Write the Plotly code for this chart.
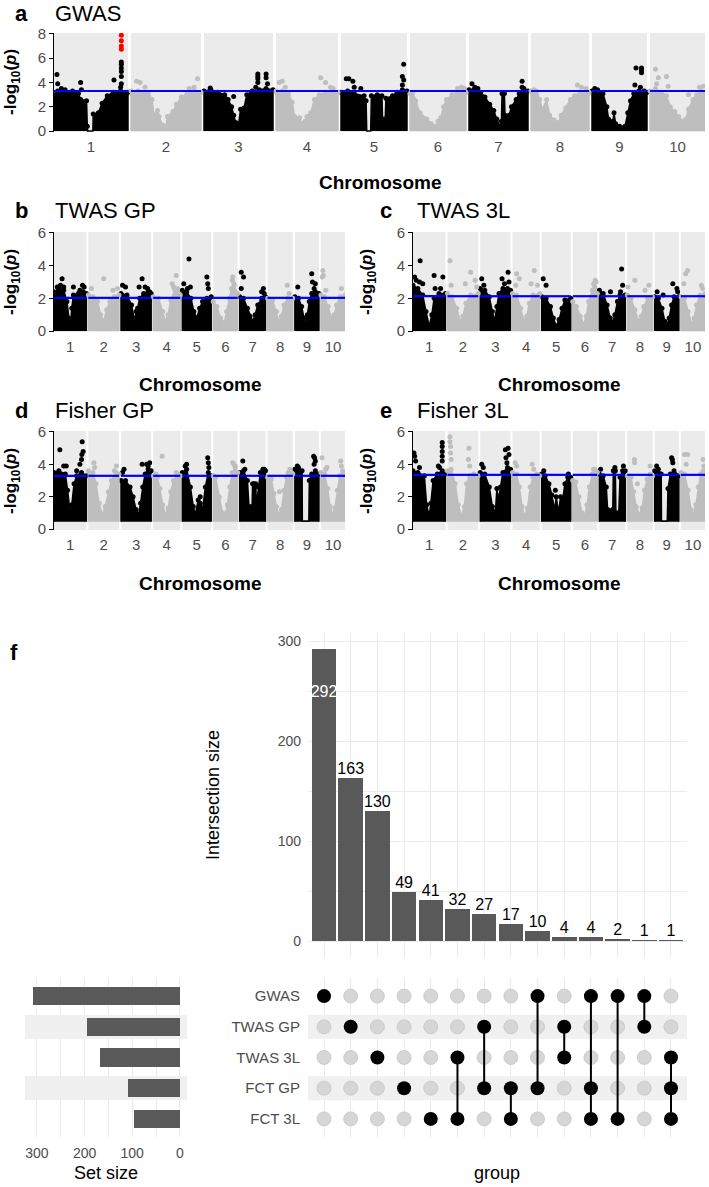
import plotly.graph_objects as go

W, H = 709, 1187
FONT = "Liberation Sans, Arial, sans-serif"
BLACK = "#000000"
GREY = "#BEBEBE"
PANEL_BG = "#EBEBEB"
AXIS_TEXT = "#4D4D4D"
BAR = "#595959"
BAND = "#F0F0F0"

# ---------------------------------------------------------------- data
CHROMOSOMES = [str(i) for i in range(1, 11)]
CHROM_WIDTH = [74, 70, 69, 62, 66, 56, 59, 58, 55, 55]   # relative chromosome lengths

# Each chromosome: list of (relative position, -log10 p) along the upper edge of the SNP cloud
GWAS_THRESHOLD = 3.3
GWAS_ENVELOPE = [
    [(0, 3.0), (0.05, 3.3), (0.15, 3.2), (0.25, 3.3), (0.33, 3.1), (0.36, 2.6), (0.44, 2.5), (0.45, 0.4), (0.455, 0), (0.525, 0), (0.53, 1.4), (0.6, 1.5), (0.65, 2.3), (0.72, 2.9), (0.8, 3.2), (0.9, 3.3), (1, 3.2)],
    [(0, 3.3), (0.1, 3.3), (0.25, 3.2), (0.3, 2.6), (0.33, 1.3), (0.38, 1.7), (0.4, 1.2), (0.45, 0.5), (0.5, 0.4), (0.52, 1.2), (0.6, 1.6), (0.65, 2.2), (0.72, 2.8), (0.8, 3.1), (0.9, 3.3), (1, 3.2)],
    [(0, 3.3), (0.1, 3.4), (0.2, 3.2), (0.3, 3.0), (0.35, 2.6), (0.4, 2.0), (0.43, 1.3), (0.46, 0.7), (0.5, 0.5), (0.53, 1.8), (0.58, 1.9), (0.62, 3.0), (0.7, 3.3), (0.8, 3.4), (0.9, 3.5), (1, 3.4)],
    [(0, 3.3), (0.1, 3.3), (0.2, 3.1), (0.26, 2.4), (0.3, 1.2), (0.38, 1.1), (0.42, 0.6), (0.47, 0.8), (0.5, 1.2), (0.56, 1.5), (0.62, 2.6), (0.7, 3.0), (0.8, 3.2), (0.9, 3.3), (1, 3.2)],
    [(0, 3.2), (0.1, 3.3), (0.2, 3.1), (0.35, 2.9), (0.38, 2.5), (0.39, 0), (0.45, 0), (0.46, 2.9), (0.55, 3.0), (0.62, 2.9), (0.63, 1.0), (0.67, 1.0), (0.68, 2.7), (0.78, 2.9), (0.85, 3.2), (0.93, 3.4), (1, 3.3)],
    [(0, 3.1), (0.05, 3.2), (0.1, 2.5), (0.18, 1.5), (0.3, 1.0), (0.38, 0.6), (0.45, 0.4), (0.5, 0.8), (0.55, 1.1), (0.6, 2.0), (0.65, 2.6), (0.75, 3.0), (0.85, 3.2), (0.95, 3.3), (1, 3.2)],
    [(0, 3.4), (0.1, 3.5), (0.2, 3.2), (0.27, 2.8), (0.35, 2.2), (0.42, 1.7), (0.47, 1.0), (0.52, 0.4), (0.55, 0.8), (0.56, 3.1), (0.6, 3.1), (0.61, 1.3), (0.68, 1.3), (0.72, 2.0), (0.8, 2.6), (0.85, 3.1), (0.92, 3.3), (1, 3.3)],
    [(0, 3.3), (0.1, 3.3), (0.15, 2.6), (0.2, 1.8), (0.27, 2.6), (0.32, 1.3), (0.4, 0.9), (0.47, 0.7), (0.52, 1.3), (0.6, 1.9), (0.68, 2.6), (0.75, 2.9), (0.85, 3.2), (0.95, 3.3), (1, 3.2)],
    [(0, 3.3), (0.1, 3.3), (0.2, 3.1), (0.27, 2.0), (0.3, 1.0), (0.38, 0.8), (0.4, 1.5), (0.43, 0.6), (0.5, 0.4), (0.6, 0.4), (0.65, 1.5), (0.7, 2.5), (0.76, 3.1), (0.85, 3.3), (0.95, 3.3), (1, 3.2)],
    [(0, 3.3), (0.1, 3.5), (0.2, 3.2), (0.3, 2.9), (0.37, 2.0), (0.45, 1.6), (0.52, 1.2), (0.6, 0.8), (0.65, 1.0), (0.7, 1.8), (0.78, 2.6), (0.85, 3.0), (0.93, 3.3), (1, 3.2)],
]
GWAS_PEAKS = [
    [(0.04, 4.65), (0.05, 3.9), (0.1, 3.5), (0.15, 3.4), (0.36, 4.0), (0.37, 3.4), (0.81, 4.2), (0.9, 3.6), (0.91, 5.7), (0.91, 5.5), (0.91, 5.2), (0.91, 4.9), (0.91, 4.5), (0.91, 3.9)],
    [(0.08, 4.1), (0.13, 4.0), (0.2, 3.6), (0.83, 3.5), (0.9, 3.6), (0.95, 4.3)],
    [(0.09, 3.55), (0.43, 2.85), (0.75, 3.6), (0.78, 4.7), (0.78, 4.5), (0.78, 4.3), (0.78, 4.0), (0.9, 4.7), (0.9, 4.4), (0.92, 3.9)],
    [(0.05, 4.0), (0.1, 4.1), (0.15, 3.6), (0.72, 4.4), (0.8, 4.0), (0.88, 3.6), (0.92, 3.5)],
    [(0.08, 4.3), (0.12, 4.3), (0.18, 4.1), (0.2, 3.6), (0.3, 3.5), (0.93, 3.8), (0.93, 4.5), (0.95, 4.2), (0.95, 5.5)],
    [(0.85, 3.5), (0.92, 3.6), (0.97, 3.5)],
    [(0.05, 3.9), (0.1, 3.6), (0.15, 3.5), (0.9, 3.6), (0.9, 4.1), (0.93, 3.5)],
    [(0.05, 3.4), (0.8, 3.8), (0.87, 3.6), (0.95, 3.5)],
    [(0.05, 3.5), (0.1, 3.4), (0.78, 3.8), (0.8, 5.2), (0.9, 5.2), (0.9, 5.0), (0.9, 4.8), (0.88, 3.6)],
    [(0.1, 5.1), (0.12, 3.9), (0.15, 4.4), (0.3, 4.5), (0.33, 3.7), (0.7, 3.0), (0.9, 3.6), (0.97, 3.7)],
]
GWAS_TOP_HITS = [(0, 0.91, 7.9), (0, 0.91, 7.45), (0, 0.91, 7.0), (0, 0.91, 6.75)]  # (chromosome index, position, -log10 p)

TWAS_GP_THRESHOLD = 2.03
TWAS_GP_ENVELOPE = [
    [(0, 2.4), (0.15, 2.6), (0.3, 2.5), (0.4, 1.8), (0.45, 0.8), (0.5, 0.2), (0.55, 1.4), (0.6, 2.2), (0.75, 2.3), (0.9, 2.4), (1, 2.3)],
    [(0, 2.2), (0.15, 2.1), (0.3, 1.8), (0.4, 1.0), (0.5, 0.6), (0.6, 1.3), (0.7, 1.8), (0.85, 2.1), (1, 2.2)],
    [(0, 2.3), (0.2, 2.2), (0.35, 1.6), (0.45, 0.6), (0.5, 1.2), (0.55, 1.4), (0.62, 2.0), (0.75, 2.3), (0.9, 2.4), (1, 2.3)],
    [(0, 2.1), (0.2, 2.0), (0.35, 1.2), (0.45, 0.6), (0.55, 1.0), (0.65, 1.9), (0.8, 2.5), (0.9, 2.4), (1, 2.2)],
    [(0, 2.5), (0.15, 2.4), (0.3, 2.0), (0.4, 1.2), (0.5, 0.8), (0.6, 1.4), (0.7, 1.8), (0.85, 2.0), (1, 2.1)],
    [(0, 1.8), (0.15, 1.5), (0.3, 0.8), (0.45, 0.5), (0.55, 1.2), (0.65, 2.0), (0.75, 2.6), (0.85, 2.8), (1, 2.3)],
    [(0, 2.1), (0.15, 2.0), (0.3, 1.4), (0.4, 0.9), (0.5, 0.6), (0.6, 1.0), (0.7, 1.6), (0.85, 2.0), (1, 2.1)],
    [(0, 2.0), (0.2, 1.9), (0.35, 1.2), (0.45, 0.6), (0.55, 0.9), (0.65, 1.6), (0.8, 2.0), (1, 2.0)],
    [(0, 2.1), (0.15, 2.0), (0.28, 1.5), (0.38, 0.8), (0.45, 0.4), (0.52, 1.0), (0.6, 1.8), (0.7, 2.3), (0.85, 2.4), (1, 2.3)],
    [(0, 2.2), (0.15, 2.1), (0.3, 1.5), (0.45, 0.8), (0.55, 1.0), (0.65, 1.6), (0.8, 2.1), (1, 2.2)],
]
TWAS_GP_PEAKS = [
    [(0.1, 2.7), (0.2, 2.8), (0.25, 3.2), (0.3, 2.7), (0.6, 2.7), (0.8, 2.5), (0.88, 2.8), (0.93, 2.7)],
    [(0.1, 2.6), (0.5, 3.2), (0.8, 2.5), (0.95, 2.6)],
    [(0.05, 2.8), (0.15, 2.7), (0.6, 2.7), (0.7, 3.2), (0.8, 2.7), (0.88, 2.6), (0.95, 2.4)],
    [(0.7, 2.9), (0.75, 2.7), (0.85, 3.4), (0.9, 2.6)],
    [(0.05, 2.9), (0.23, 4.4), (0.28, 2.7), (0.18, 2.6), (0.85, 3.3), (0.88, 2.9), (0.9, 2.6)],
    [(0.78, 3.1), (0.8, 3.3), (0.85, 2.9)],
    [(0.06, 3.6), (0.15, 3.3), (0.06, 2.6), (0.85, 2.4), (0.92, 2.6), (0.95, 2.3)],
    [(0.78, 2.8), (0.85, 2.3)],
    [(0.12, 2.7), (0.7, 3.5), (0.73, 3.0), (0.85, 2.9), (0.8, 2.6)],
    [(0.08, 3.7), (0.05, 3.3), (0.1, 3.4), (0.2, 2.5), (0.85, 2.6)],
]

TWAS_3L_THRESHOLD = 2.13
TWAS_3L_ENVELOPE = [
    [(0, 2.8), (0.15, 2.6), (0.3, 2.2), (0.4, 1.2), (0.5, 0.3), (0.58, 1.0), (0.65, 2.0), (0.8, 2.3), (1, 2.3)],
    [(0, 2.3), (0.15, 2.1), (0.3, 1.4), (0.42, 0.6), (0.5, 0.9), (0.6, 1.7), (0.75, 2.2), (1, 2.3)],
    [(0, 2.6), (0.15, 2.5), (0.3, 2.1), (0.4, 1.2), (0.47, 0.6), (0.55, 1.5), (0.62, 2.3), (0.75, 2.6), (0.9, 2.6), (1, 2.5)],
    [(0, 2.3), (0.15, 2.2), (0.3, 1.4), (0.42, 0.6), (0.52, 0.9), (0.62, 1.7), (0.75, 2.2), (1, 2.3)],
    [(0, 2.1), (0.15, 2.0), (0.3, 1.5), (0.4, 0.8), (0.5, 0.3), (0.6, 0.7), (0.7, 1.4), (0.8, 1.9), (1, 2.0)],
    [(0, 1.8), (0.15, 1.5), (0.3, 0.9), (0.45, 0.4), (0.55, 0.9), (0.65, 1.8), (0.8, 2.5), (0.9, 2.7), (1, 2.3)],
    [(0, 2.5), (0.15, 2.3), (0.3, 1.6), (0.42, 0.8), (0.5, 0.5), (0.6, 1.0), (0.7, 1.8), (0.8, 2.2), (1, 2.2)],
    [(0, 2.2), (0.15, 2.0), (0.3, 1.3), (0.45, 0.6), (0.55, 0.9), (0.65, 1.5), (0.8, 2.0), (1, 2.1)],
    [(0, 2.1), (0.15, 2.0), (0.3, 1.4), (0.42, 0.6), (0.5, 0.3), (0.6, 0.8), (0.7, 1.6), (0.8, 2.1), (1, 2.1)],
    [(0, 2.1), (0.15, 2.0), (0.3, 1.2), (0.45, 0.4), (0.55, 0.8), (0.65, 1.6), (0.8, 2.2), (1, 2.3)],
]
TWAS_3L_PEAKS = [
    [(0.05, 3.3), (0.1, 3.1), (0.22, 4.3), (0.2, 3.0), (0.3, 2.9), (0.65, 3.4), (0.68, 2.6), (0.92, 3.3), (0.85, 2.6)],
    [(0.08, 4.3), (0.12, 2.8), (0.58, 2.9), (0.75, 3.6), (0.9, 3.1), (0.95, 2.7)],
    [(0.05, 3.2), (0.12, 2.8), (0.72, 3.2), (0.8, 2.9), (0.92, 3.6), (0.95, 3.0)],
    [(0.15, 3.5), (0.25, 3.2), (0.12, 2.8), (0.68, 2.9), (0.8, 3.7), (0.92, 2.8)],
    [(0.05, 3.2), (0.15, 2.8)],
    [(0.85, 2.9), (0.92, 3.1), (0.95, 3.0)],
    [(0.43, 2.4), (0.86, 3.8), (0.9, 2.8), (0.82, 2.4)],
    [(0.03, 2.7), (0.3, 3.1), (0.7, 2.5), (0.85, 2.8)],
    [(0.1, 2.4), (0.35, 2.2), (0.75, 2.9), (0.92, 2.6), (0.95, 2.4)],
    [(0.28, 3.7), (0.2, 3.5), (0.12, 2.9), (0.85, 2.8), (0.9, 2.6)],
]

FISHER_GP_THRESHOLD = 3.29
FISHER_GP_ENVELOPE = [
    [(0, 3.5), (0.15, 3.6), (0.35, 3.4), (0.42, 2.4), (0.5, 1.0), (0.55, 1.5), (0.62, 2.8), (0.7, 3.3), (0.85, 3.5), (1, 3.3)],
    [(0, 3.6), (0.15, 3.5), (0.25, 2.8), (0.35, 1.6), (0.45, 0.9), (0.55, 1.4), (0.65, 2.3), (0.75, 3.0), (0.9, 3.5), (1, 3.4)],
    [(0, 3.0), (0.15, 3.0), (0.3, 2.6), (0.4, 2.0), (0.5, 1.2), (0.58, 0.9), (0.65, 1.6), (0.72, 2.6), (0.8, 3.4), (0.9, 3.7), (1, 3.6)],
    [(0, 3.3), (0.15, 3.2), (0.25, 2.5), (0.35, 1.5), (0.45, 0.9), (0.55, 1.3), (0.65, 2.3), (0.75, 3.0), (0.9, 3.4), (1, 3.3)],
    [(0, 3.5), (0.15, 3.7), (0.28, 2.6), (0.38, 1.4), (0.45, 0.9), (0.55, 1.8), (0.62, 1.6), (0.7, 1.2), (0.8, 2.6), (0.9, 3.5), (1, 3.3)],
    [(0, 3.3), (0.1, 3.2), (0.25, 2.0), (0.38, 1.0), (0.48, 0.8), (0.58, 1.5), (0.68, 2.6), (0.78, 3.5), (0.9, 3.8), (1, 3.5)],
    [(0, 3.5), (0.15, 3.6), (0.3, 3.0), (0.36, 1.4), (0.48, 1.4), (0.5, 2.8), (0.62, 2.8), (0.65, 1.5), (0.72, 2.6), (0.8, 3.5), (1, 3.6)],
    [(0, 3.2), (0.15, 3.1), (0.25, 2.2), (0.35, 1.4), (0.45, 0.9), (0.55, 1.2), (0.65, 2.4), (0.75, 3.2), (0.9, 3.6), (1, 3.4)],
    [(0, 3.7), (0.15, 3.8), (0.3, 3.6), (0.31, 0.5), (0.58, 0.5), (0.6, 3.0), (0.7, 3.4), (0.85, 3.6), (1, 3.4)],
    [(0, 3.5), (0.15, 3.4), (0.28, 2.5), (0.38, 1.4), (0.48, 0.9), (0.58, 1.3), (0.68, 2.4), (0.78, 3.3), (0.9, 3.6), (1, 3.4)],
]
FISHER_GP_PEAKS = [
    [(0.18, 4.9), (0.3, 3.9), (0.38, 3.9), (0.8, 4.0), (0.85, 4.3), (0.86, 4.6), (0.87, 5.4), (0.9, 4.8), (0.7, 3.6)],
    [(0.18, 4.1), (0.2, 3.8), (0.92, 3.9), (0.85, 3.6)],
    [(0.1, 3.7), (0.05, 3.5), (0.7, 4.0), (0.85, 4.0), (0.95, 4.1), (0.9, 3.9)],
    [(0.33, 4.5), (0.85, 3.5), (0.1, 3.4)],
    [(0.15, 4.0), (0.1, 3.9), (0.62, 2.0), (0.88, 4.4), (0.9, 4.1), (0.92, 3.8)],
    [(0.8, 4.1), (0.85, 4.0), (0.9, 3.9)],
    [(0.12, 4.2), (0.2, 3.7), (0.55, 2.8), (0.9, 3.7), (0.95, 3.7)],
    [(0.47, 2.3), (0.88, 3.7), (0.82, 3.5)],
    [(0.1, 3.9), (0.78, 4.5), (0.82, 4.4), (0.85, 4.2), (0.8, 4.0)],
    [(0.04, 4.4), (0.2, 3.7), (0.25, 3.8), (0.82, 4.2), (0.85, 3.9)],
]

FISHER_3L_THRESHOLD = 3.35
FISHER_3L_ENVELOPE = [
    [(0, 3.6), (0.15, 3.5), (0.35, 3.3), (0.42, 1.5), (0.5, 0.8), (0.55, 1.6), (0.62, 3.0), (0.75, 3.4), (0.9, 3.6), (1, 3.4)],
    [(0, 3.6), (0.12, 3.7), (0.25, 2.8), (0.35, 1.5), (0.45, 0.8), (0.55, 1.4), (0.62, 2.8), (0.72, 3.3), (0.85, 3.4), (1, 3.3)],
    [(0, 3.5), (0.15, 3.4), (0.3, 2.6), (0.4, 1.4), (0.5, 1.0), (0.55, 2.5), (0.6, 1.8), (0.67, 2.6), (0.75, 3.5), (0.9, 3.8), (1, 3.7)],
    [(0, 3.5), (0.15, 3.4), (0.25, 2.6), (0.35, 1.4), (0.45, 0.8), (0.55, 1.3), (0.65, 2.6), (0.75, 3.2), (0.9, 3.4), (1, 3.3)],
    [(0, 3.4), (0.12, 3.3), (0.25, 2.8), (0.35, 2.1), (0.45, 1.2), (0.5, 2.0), (0.58, 1.0), (0.65, 2.0), (0.72, 1.8), (0.8, 2.8), (0.9, 3.2), (1, 3.2)],
    [(0, 3.0), (0.12, 2.9), (0.25, 2.0), (0.38, 1.0), (0.48, 0.8), (0.58, 1.5), (0.68, 2.6), (0.8, 3.4), (0.92, 3.6), (1, 3.5)],
    [(0, 3.4), (0.15, 3.3), (0.27, 2.6), (0.32, 1.2), (0.52, 1.2), (0.54, 3.6), (0.62, 3.6), (0.64, 1.0), (0.75, 1.0), (0.8, 3.2), (0.9, 3.6), (1, 3.6)],
    [(0, 3.3), (0.15, 3.2), (0.25, 2.3), (0.35, 1.4), (0.48, 0.9), (0.58, 1.3), (0.68, 2.4), (0.78, 3.1), (0.9, 3.4), (1, 3.3)],
    [(0, 3.6), (0.15, 3.7), (0.27, 3.4), (0.28, 0.5), (0.52, 0.5), (0.55, 2.5), (0.65, 3.4), (0.8, 3.6), (1, 3.3)],
    [(0, 3.5), (0.15, 3.4), (0.3, 2.4), (0.42, 1.2), (0.52, 0.9), (0.62, 1.5), (0.72, 2.6), (0.82, 3.4), (0.92, 3.6), (1, 3.4)],
]
FISHER_3L_PEAKS = [
    [(0.03, 4.7), (0.05, 4.5), (0.08, 4.2), (0.2, 3.8), (0.78, 3.9), (0.82, 3.8), (0.9, 4.2), (0.9, 4.5), (0.9, 4.8), (0.9, 5.1), (0.9, 5.35)],
    [(0.08, 5.7), (0.08, 5.4), (0.1, 5.1), (0.1, 4.7), (0.12, 4.3), (0.7, 5.0), (0.68, 4.3), (0.72, 3.9)],
    [(0.05, 4.0), (0.1, 3.8), (0.83, 4.9), (0.85, 4.4), (0.92, 5.0), (0.95, 4.6), (0.88, 4.1)],
    [(0.1, 4.1), (0.15, 3.9), (0.72, 4.0), (0.78, 3.7)],
    [(0.07, 3.6), (0.47, 2.4), (0.92, 3.4)],
    [(0.85, 3.7), (0.9, 3.7)],
    [(0.05, 3.7), (0.6, 3.8), (0.93, 3.9)],
    [(0.28, 4.3), (0.29, 4.1), (0.4, 2.8), (0.9, 3.9)],
    [(0.08, 3.9), (0.7, 4.4), (0.73, 4.3), (0.75, 4.1)],
    [(0.15, 4.6), (0.28, 4.6), (0.22, 4.0), (0.92, 4.3), (0.95, 3.9)],
]

# UpSet data
SETS = ["GWAS", "TWAS GP", "TWAS 3L", "FCT GP", "FCT 3L"]
INTERSECTION_SIZE = [292, 163, 130, 49, 41, 32, 27, 17, 10, 4, 4, 2, 1, 1]
INTERSECTION_SETS = [
    ["GWAS"], ["TWAS GP"], ["TWAS 3L"], ["FCT GP"], ["FCT 3L"],
    ["TWAS 3L", "FCT 3L"], ["TWAS GP", "FCT GP"], ["FCT GP", "FCT 3L"],
    ["GWAS", "FCT GP"], ["TWAS GP", "TWAS 3L"], ["GWAS", "FCT GP", "FCT 3L"],
    ["GWAS", "FCT 3L"], ["GWAS", "TWAS GP"], ["TWAS 3L", "FCT GP", "FCT 3L"],
]
SET_SIZE = [sum(n for n, m in zip(INTERSECTION_SIZE, INTERSECTION_SETS) if s in m) for s in SETS]
SHADED_SETS = ["TWAS GP", "FCT GP"]

# ---------------------------------------------------------------- helpers
fig = go.Figure()
shapes, annotations = [], []
layout = {}


def dx(p0, p1):
    return [p0 / W, p1 / W]


def dy(top, bottom):
    return [1 - bottom / H, 1 - top / H]


def ann(text, x, y, size, bold=False, color="#000000", xanchor="center", angle=0):
    annotations.append(dict(
        text=f"<b>{text}</b>" if bold else text, x=x / W, y=1 - y / H,
        xref="paper", yref="paper", xanchor=xanchor, yanchor="middle",
        showarrow=False, textangle=angle, font=dict(family=FONT, size=size, color=color)))


def manhattan(idx, env, peaks, thr, base, ymax, yticks, xpx, ypx, gap, tops=None):
    s = "" if idx == 1 else str(idx)
    xa, ya = "x" + s, "y" + s
    offsets, o = [], 0.0
    for w in CHROM_WIDTH:
        offsets.append(o)
        o += w + gap
    total = o - gap
    for c in range(10):
        shapes.append(dict(type="rect", xref=xa, yref=ya + " domain", x0=offsets[c],
                           x1=offsets[c] + CHROM_WIDTH[c], y0=0, y1=1,
                           fillcolor=PANEL_BG, line=dict(width=0), layer="below"))
    for parity, color in ((0, BLACK), (1, GREY)):
        px, py, mx, my = [], [], [], []
        for c in range(parity, 10, 2):
            off, w = offsets[c], CHROM_WIDTH[c]
            px.append(off)
            py.append(base)
            for f, h in env[c]:
                px.append(off + f * w)
                py.append(max(h, base))
                if h > base + 0.25:
                    mx.append(off + f * w)
                    my.append(h)
            px += [off + w, None]
            py += [base, None]
            for f, h in peaks[c]:
                mx.append(off + f * w)
                my.append(h)
        fig.add_trace(go.Scatter(x=px, y=py, xaxis=xa, yaxis=ya, mode="lines", fill="toself",
                                 fillcolor=color, line=dict(color=color, width=1.5),
                                 hoverinfo="skip", showlegend=False))
        fig.add_trace(go.Scatter(x=mx, y=my, xaxis=xa, yaxis=ya, mode="markers",
                                 marker=dict(color=color, size=5, line=dict(width=0)),
                                 hoverinfo="skip", showlegend=False))
    tx, ty = [], []
    for c in range(10):
        tx += [offsets[c], offsets[c] + CHROM_WIDTH[c], None]
        ty += [thr, thr, None]
    fig.add_trace(go.Scatter(x=tx, y=ty, xaxis=xa, yaxis=ya, mode="lines",
                             line=dict(color="#0000FF", width=2.2), hoverinfo="skip", showlegend=False))
    if tops:
        fig.add_trace(go.Scatter(x=[offsets[c] + f * CHROM_WIDTH[c] for c, f, h in tops],
                                 y=[h for c, f, h in tops], xaxis=xa, yaxis=ya, mode="markers",
                                 marker=dict(color="#FF0000", size=5, line=dict(width=0)),
                                 hoverinfo="skip", showlegend=False))
    centers = [offsets[c] + CHROM_WIDTH[c] / 2 for c in range(10)]
    layout["xaxis" + s] = dict(domain=dx(*xpx), range=[0, total], anchor=ya, showgrid=False,
                               zeroline=False, showline=False, ticks="", tickvals=centers,
                               ticktext=CHROMOSOMES, ticklabelstandoff=4, automargin=False,
                               tickfont=dict(family=FONT, size=15, color=AXIS_TEXT))
    layout["yaxis" + s] = dict(domain=dy(*ypx), range=[-ymax * 0.01, ymax * 1.01], anchor=xa,
                               showgrid=False, zeroline=False, showline=True, linecolor="#000000",
                               linewidth=1, ticks="outside", ticklen=4, tickwidth=1, automargin=False,
                               tickcolor="#000000", tickvals=yticks,
                               tickfont=dict(family=FONT, size=15, color=AXIS_TEXT))


# ---------------------------------------------------------------- Manhattan panels
manhattan(1, GWAS_ENVELOPE, GWAS_PEAKS, GWAS_THRESHOLD, 0, 8, [0, 2, 4, 6, 8], (54, 705), (33, 132), 3.0, GWAS_TOP_HITS)
manhattan(2, TWAS_GP_ENVELOPE, TWAS_GP_PEAKS, TWAS_GP_THRESHOLD, 0, 6, [0, 2, 4, 6], (54, 345), (232, 332), 4.6)
manhattan(3, TWAS_3L_ENVELOPE, TWAS_3L_PEAKS, TWAS_3L_THRESHOLD, 0, 6, [0, 2, 4, 6], (413, 705), (232, 332), 4.6)
manhattan(4, FISHER_GP_ENVELOPE, FISHER_GP_PEAKS, FISHER_GP_THRESHOLD, 0.45, 6, [0, 2, 4, 6], (54, 345), (431, 530), 4.6)
manhattan(5, FISHER_3L_ENVELOPE, FISHER_3L_PEAKS, FISHER_3L_THRESHOLD, 0.45, 6, [0, 2, 4, 6], (413, 705), (431, 530), 4.6)

YLAB = "-log<sub>10</sub>(<i>p</i>)"
for letter, title, lx, tx, ty, cx, cy, axx, axy in [
    ("a", "GWAS", 13, 53, 13, 380, 183, 12, 82),
    ("b", "TWAS GP", 13, 53, 210, 200, 384, 12, 282),
    ("c", "TWAS 3L", 378, 415, 210, 559, 384, 368, 282),
    ("d", "Fisher GP", 13, 53, 410, 200, 584, 12, 481),
    ("e", "Fisher 3L", 378, 415, 410, 559, 584, 368, 481),
]:
    ann(letter, lx, ty, 22, bold=True, xanchor="left")
    ann(title, tx, ty, 22, xanchor="left")
    ann("Chromosome", cx, cy, 19, bold=True)
    ann(YLAB, axx, axy, 17, bold=True, angle=-90)

# ---------------------------------------------------------------- UpSet
cols = list(range(1, len(INTERSECTION_SIZE) + 1))
row_of = {s: len(SETS) - i for i, s in enumerate(SETS)}
X6 = [0.4, 14.6]
X8 = [325, -15]
YR = [0.41, 5.59]

fig.add_trace(go.Bar(x=cols, y=INTERSECTION_SIZE, xaxis="x6", yaxis="y6", marker=dict(color=BAR, line=dict(width=0)),
                     width=0.92, hoverinfo="skip", showlegend=False))
fig.add_trace(go.Scatter(x=cols[1:], y=INTERSECTION_SIZE[1:], text=[str(v) for v in INTERSECTION_SIZE[1:]],
                         mode="text", textposition="top center", xaxis="x6", yaxis="y6",
                         textfont=dict(family=FONT, size=16, color="#000000"), hoverinfo="skip", showlegend=False))
fig.add_trace(go.Scatter(x=[cols[0]], y=[INTERSECTION_SIZE[0] - 44], text=[str(INTERSECTION_SIZE[0])],
                         mode="text", textposition="middle center", xaxis="x6", yaxis="y6",
                         textfont=dict(family=FONT, size=16, color="#FFFFFF"), hoverinfo="skip", showlegend=False))

layout["xaxis6"] = dict(domain=dx(308, 687), range=X6, anchor="y6", tickvals=cols, showticklabels=False,
                        ticks="", showgrid=True, gridcolor=PANEL_BG, gridwidth=1, zeroline=False, showline=False,
                        automargin=False)
layout["yaxis6"] = dict(domain=dy(633, 957), range=[-16, 308], anchor="x6", tickvals=[0, 100, 200, 300],
                        showgrid=True, gridcolor=PANEL_BG, gridwidth=1, zeroline=False, showline=False, ticks="",
                        ticklabelstandoff=6, tickfont=dict(family=FONT, size=14, color=AXIS_TEXT), automargin=False,
                        minor=dict(tickvals=[50, 150, 250], showgrid=True, gridcolor=PANEL_BG, gridwidth=1))

# shaded rows of the matrix (filled trace above grid lines, below dots)
bx, by = [], []
for s in SHADED_SETS:
    r = row_of[s]
    bx += [X6[0], X6[1], X6[1], X6[0], X6[0], None]
    by += [r - 0.39, r - 0.39, r + 0.39, r + 0.39, r - 0.39, None]
fig.add_trace(go.Scatter(x=bx, y=by, xaxis="x7", yaxis="y7", mode="lines", fill="toself",
                         fillcolor=BAND, line=dict(width=0), hoverinfo="skip", showlegend=False))

ix, iy, ax_, ay_, lx, ly = [], [], [], [], [], []
for c, members in zip(cols, INTERSECTION_SETS):
    rows = [row_of[s] for s in members]
    for s in SETS:
        if s in members:
            ax_.append(c)
            ay_.append(row_of[s])
        else:
            ix.append(c)
            iy.append(row_of[s])
    if len(rows) > 1:
        lx += [c, c, None]
        ly += [min(rows), max(rows), None]

fig.add_trace(go.Scatter(x=ix, y=iy, xaxis="x7", yaxis="y7", mode="markers",
                         marker=dict(color="#D6D6D6", size=14, line=dict(color="#C4C4C4", width=0.8)),
                         hoverinfo="skip", showlegend=False))
fig.add_trace(go.Scatter(x=lx, y=ly, xaxis="x7", yaxis="y7", mode="lines",
                         line=dict(color="#000000", width=2), hoverinfo="skip", showlegend=False))
fig.add_trace(go.Scatter(x=ax_, y=ay_, xaxis="x7", yaxis="y7", mode="markers",
                         marker=dict(color="#000000", size=14, line=dict(width=0)),
                         hoverinfo="skip", showlegend=False))

layout["xaxis7"] = dict(domain=dx(308, 687), range=X6, anchor="y7", tickvals=cols, showticklabels=False,
                        ticks="", showgrid=True, gridcolor=PANEL_BG, gridwidth=1, zeroline=False, showline=False,
                        automargin=False)
layout["yaxis7"] = dict(domain=dy(978, 1137), range=YR, anchor="x7",
                        tickvals=[row_of[s] for s in SETS], ticktext=SETS, showgrid=False, zeroline=False,
                        showline=False, ticks="", ticklabelstandoff=7, automargin=False,
                        tickfont=dict(family=FONT, size=15, color=AXIS_TEXT))

# set size: shaded rows as background bars, then the set-size bars
shaded_rows = [row_of[s] for s in SHADED_SETS]
fig.add_trace(go.Bar(x=[X8[0] - X8[1]] * len(shaded_rows), base=[X8[1]] * len(shaded_rows), y=shaded_rows,
                     orientation="h", xaxis="x8", yaxis="y8", marker=dict(color=BAND, line=dict(width=0)),
                     width=0.78, hoverinfo="skip", showlegend=False))
fig.add_trace(go.Bar(x=SET_SIZE, y=[row_of[s] for s in SETS], orientation="h", xaxis="x8", yaxis="y8",
                     marker=dict(color=BAR, line=dict(width=0)), width=0.6, hoverinfo="skip", showlegend=False))
layout["xaxis8"] = dict(domain=dx(25, 187), range=X8, anchor="y8", tickvals=[0, 100, 200, 300],
                        showgrid=True, gridcolor=PANEL_BG, gridwidth=1, zeroline=False, showline=False, ticks="",
                        ticklabelstandoff=6, tickfont=dict(family=FONT, size=14, color=AXIS_TEXT), automargin=False,
                        minor=dict(tickvals=[50, 150, 250], showgrid=True, gridcolor=PANEL_BG, gridwidth=1))
layout["yaxis8"] = dict(domain=dy(978, 1137), range=YR, anchor="x8", showticklabels=False,
                        showgrid=False, zeroline=False, showline=False, ticks="", automargin=False)

ann("f", 8, 652, 22, bold=True, xanchor="left")
ann("Intersection size", 213, 795, 18, angle=-90)
ann("Set size", 106, 1173, 18)
ann("group", 497, 1173, 18)

fig.update_layout(width=W, height=H, margin=dict(l=0, r=0, t=0, b=0, autoexpand=False), autosize=False,
                  paper_bgcolor="#FFFFFF", plot_bgcolor="rgba(0,0,0,0)", showlegend=False,
                  barmode="overlay", bargap=0, shapes=shapes, annotations=annotations,
                  font=dict(family=FONT), **layout)

fig.write_html("out.html")
